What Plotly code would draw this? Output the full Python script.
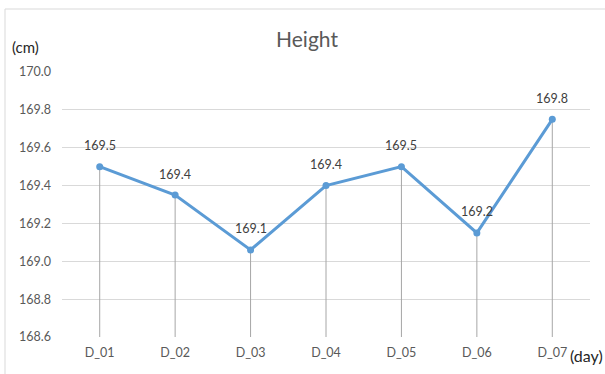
import plotly.graph_objects as go

days = ["D_01", "D_02", "D_03", "D_04", "D_05", "D_06", "D_07"]
height = [169.50, 169.35, 169.06, 169.40, 169.50, 169.15, 169.75]
labels = ["169.5", "169.4", "169.1", "169.4", "169.5", "169.2", "169.8"]
y_ticks = [168.6, 168.8, 169.0, 169.2, 169.4, 169.6, 169.8, 170.0]
y_min, y_max = 168.6, 170.0

W, H = 605, 374
L, R, T, B = 62, 15, 72, 37
pw, ph = W - L - R, H - T - B

def px_x(x):
    return (x - L) / pw

def px_y(y):
    return (H - B - y) / ph

FONT = "Lato, Open Sans, sans-serif"

fig = go.Figure()
fig.add_trace(go.Scatter(
    x=days, y=height,
    mode="lines+markers",
    line=dict(color="#5b9bd5", width=3),
    marker=dict(color="#5b9bd5", size=7),
    error_y=dict(type="data", symmetric=False,
                 array=[0] * len(height),
                 arrayminus=[v - y_min for v in height],
                 color="#a6a6a6", thickness=1, width=0),
    cliponaxis=False,
    showlegend=False,
))

annotations = [
    dict(x=d, y=v, text=t, xref="x", yref="y", showarrow=False,
         xanchor="center", yanchor="middle", yshift=21,
         font=dict(family=FONT, size=12.5, color="#404040"))
    for d, v, t in zip(days, height, labels)
]
annotations += [
    dict(text="(cm)", xref="paper", yref="paper", x=px_x(25), y=px_y(47),
         showarrow=False, xanchor="center", yanchor="middle",
         font=dict(family=FONT, size=15, color="#262626")),
    dict(text="(day)", xref="paper", yref="paper", x=px_x(586), y=px_y(355),
         showarrow=False, xanchor="center", yanchor="middle",
         font=dict(family=FONT, size=16, color="#262626")),
]

fig.update_layout(
    width=W, height=H,
    margin=dict(l=L, r=R, t=T, b=B),
    paper_bgcolor="white", plot_bgcolor="white",
    title=dict(text="Height", x=307 / W, y=1 - 40 / H, xref="container", yref="container",
               xanchor="center", yanchor="middle",
               font=dict(family=FONT, size=21, color="#595959")),
    xaxis=dict(range=[-0.5, 6.5], showgrid=False, zeroline=False, showline=False,
               tickfont=dict(family=FONT, size=12.5, color="#595959"),
               ticklabelstandoff=6, fixedrange=True),
    yaxis=dict(range=[y_min, y_max], tickvals=y_ticks, tickformat=".1f",
               showgrid=True, gridcolor="#d9d9d9", gridwidth=1,
               zeroline=False, showline=False,
               tickfont=dict(family=FONT, size=12.5, color="#595959"),
               ticklabelstandoff=10, fixedrange=True),
    shapes=[dict(type="rect", xref="paper", yref="paper",
                 x0=px_x(5), x1=px_x(612), y0=px_y(385), y1=px_y(9),
                 line=dict(color="#d9d9d9", width=1), layer="below")],
    annotations=annotations,
)

fig.write_html("out.html")
